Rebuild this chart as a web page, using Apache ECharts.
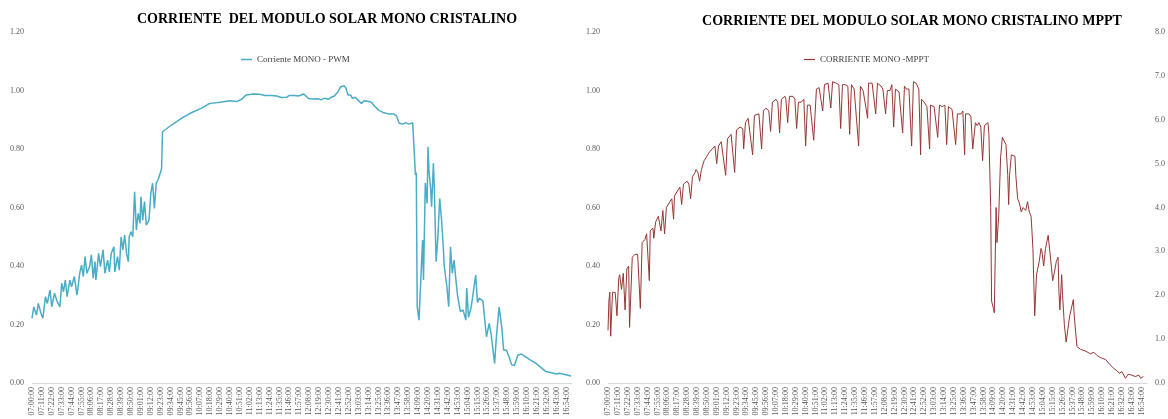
<!DOCTYPE html>
<html>
<head>
<meta charset="utf-8">
<script src="https://cdn.jsdelivr.net/npm/echarts@6/dist/echarts.min.js"></script>
<style>
html,body{margin:0;padding:0;background:#fff;}
#chart{width:1168px;height:419px;}
</style>
</head>
<body>
<div id="chart"></div>
<script>
// Tick labels of the time axis (one every 11 minutes from 07:00:00)
const tickLabels = ['07:00:00','07:11:00','07:22:00','07:33:00','07:44:00','07:55:00','08:06:00','08:17:00','08:28:00','08:39:00','08:50:00','09:01:00','09:12:00','09:23:00','09:34:00','09:45:00','09:56:00','10:07:00','10:18:00','10:29:00','10:40:00','10:51:00','11:02:00','11:13:00','11:24:00','11:35:00','11:46:00','11:57:00','12:08:00','12:19:00','12:30:00','12:41:00','12:52:00','13:03:00','13:14:00','13:25:00','13:36:00','13:47:00','13:58:00','14:09:00','14:20:00','14:31:00','14:42:00','14:53:00','15:04:00','15:15:00','15:26:00','15:37:00','15:48:00','15:59:00','16:10:00','16:21:00','16:32:00','16:43:00','16:54:00'];

const titleLeft = 'CORRIENTE  DEL MODULO SOLAR MONO CRISTALINO';
const titleRight = 'CORRIENTE DEL MODULO SOLAR MONO CRISTALINO MPPT';
const pwmName = 'Corriente MONO - PWM';
const mpptName = 'CORRIENTE MONO -MPPT';

// PWM series: minutes after 07:00 and current (A)
const pwmMinutes = [0,2,5,7,10,12,15,17,20,22,25,28,31,33,35,37,39,42,44,47,50,53,55,57,59,61,64,66,68,70,71,74,76,79,81,84,86,88,91,92,95,97,99,101,103,105,107,108,110,112,114,116,118,120,121,123,125,127,130,132,134,136,138,140,143,144,145,155,166,177,188,195,198,209,220,227,233,238,246,253,259,266,272,277,283,286,292,296,298,302,307,312,318,321,325,329,332,336,340,343,345,347,349,351,354,356,359,362,364,366,369,372,377,381,385,390,396,402,405,408,412,415,419,423,424,425,426,427,428,430,432,434,435,437,439,440,441,443,444,446,447,449,451,453,455,457,458,461,463,465,467,469,471,473,476,479,482,483,485,488,493,495,497,501,505,508,510,514,516,519,522,524,527,530,533,536,538,540,544,553,560,571,583,586,599];
const pwmValues = [0.221,0.26,0.232,0.272,0.238,0.221,0.295,0.272,0.318,0.26,0.307,0.278,0.26,0.341,0.312,0.352,0.295,0.352,0.329,0.364,0.30,0.375,0.403,0.364,0.432,0.375,0.398,0.438,0.358,0.415,0.352,0.443,0.398,0.455,0.375,0.42,0.38,0.443,0.466,0.38,0.432,0.386,0.50,0.455,0.506,0.443,0.415,0.50,0.517,0.50,0.654,0.523,0.58,0.546,0.637,0.557,0.62,0.54,0.557,0.648,0.683,0.597,0.683,0.694,0.722,0.734,0.859,0.882,0.905,0.924,0.939,0.952,0.956,0.96,0.965,0.962,0.97,0.985,0.988,0.987,0.983,0.983,0.981,0.976,0.977,0.983,0.983,0.981,0.985,0.988,0.973,0.971,0.972,0.968,0.974,0.97,0.976,0.981,0.996,1.013,1.015,1.016,1.007,0.985,0.985,0.973,0.977,0.968,0.973,0.956,0.965,0.964,0.96,0.945,0.933,0.925,0.92,0.92,0.913,0.888,0.885,0.89,0.885,0.89,0.885,0.774,0.711,0.72,0.261,0.215,0.215,0.489,0.352,0.684,0.614,0.808,0.73,0.66,0.603,0.751,0.671,0.415,0.50,0.631,0.56,0.466,0.40,0.329,0.261,0.466,0.375,0.42,0.352,0.295,0.244,0.25,0.215,0.325,0.225,0.26,0.369,0.275,0.29,0.28,0.158,0.204,0.17,0.067,0.158,0.26,0.19,0.113,0.113,0.09,0.062,0.06,0.062,0.096,0.099,0.08,0.067,0.039,0.031,0.033,0.024];

// MPPT series: minutes after 07:00 and current (A)
const mpptMinutes = [0,1,2,3,5,8,10,12,13,15,17,19,21,23,24,27,30,33,36,38,41,43,46,47,50,51,53,56,59,61,63,65,69,71,73,74,78,80,82,84,88,90,92,94,97,98,100,102,104,107,109,111,113,116,119,121,123,126,128,131,133,137,139,141,143,147,150,151,153,156,158,161,163,165,168,171,173,176,179,181,183,187,189,191,193,197,198,200,202,206,208,210,212,215,218,220,222,225,227,229,232,235,237,239,241,245,247,248,250,254,257,259,261,264,267,269,271,274,276,279,281,284,286,289,290,294,296,298,300,304,306,309,311,314,316,318,320,324,326,328,330,332,335,338,340,343,346,348,349,352,355,358,359,363,365,367,369,372,375,377,379,383,385,387,389,393,395,397,398,402,404,406,409,411,413,415,417,419,421,423,424,426,427,429,430,432,433,435,437,439,441,443,445,446,447,449,451,453,454,456,458,460,462,465,467,469,471,473,475,477,480,482,483,485,487,490,492,493,495,497,499,501,502,503,505,506,508,510,512,514,516,518,519,522,526,531,537,541,544,548,554,559,563,567,569,572,576,579,583,587,591,593,596];
const mpptValues = [0.18,0.28,0.31,0.16,0.31,0.31,0.23,0.36,0.37,0.32,0.375,0.25,0.39,0.40,0.19,0.43,0.44,0.44,0.255,0.48,0.49,0.51,0.35,0.52,0.53,0.495,0.55,0.57,0.52,0.59,0.51,0.60,0.62,0.63,0.56,0.64,0.66,0.67,0.61,0.68,0.69,0.68,0.63,0.705,0.72,0.73,0.72,0.69,0.73,0.76,0.77,0.78,0.79,0.80,0.81,0.75,0.81,0.825,0.83,0.71,0.835,0.85,0.855,0.72,0.865,0.875,0.87,0.80,0.89,0.905,0.905,0.78,0.915,0.92,0.92,0.80,0.93,0.94,0.93,0.86,0.96,0.97,0.96,0.855,0.97,0.98,0.97,0.89,0.98,0.98,0.97,0.87,0.96,0.96,0.97,0.81,0.95,0.95,0.95,0.83,1.005,1.01,1.005,0.93,1.02,1.025,1.03,0.94,1.03,1.025,1.02,0.87,1.02,1.02,1.015,0.85,1.02,1.005,1.0,0.81,1.015,1.0,1.005,0.905,1.025,1.025,1.02,0.92,1.025,1.015,1.005,0.92,1.0,1.0,1.02,0.875,1.005,0.995,0.995,0.855,1.015,1.005,1.005,0.81,1.03,1.025,1.005,0.78,0.97,0.96,0.945,0.80,0.95,0.945,0.94,0.84,0.95,0.945,0.95,0.815,0.945,0.935,0.93,0.815,0.92,0.92,0.93,0.78,0.92,0.92,0.91,0.80,0.89,0.88,0.89,0.875,0.76,0.88,0.88,0.89,0.85,0.60,0.28,0.255,0.24,0.60,0.48,0.575,0.77,0.84,0.835,0.815,0.71,0.61,0.71,0.78,0.785,0.775,0.71,0.63,0.615,0.585,0.60,0.59,0.62,0.585,0.57,0.46,0.23,0.37,0.415,0.46,0.45,0.40,0.46,0.505,0.505,0.415,0.35,0.38,0.415,0.43,0.31,0.25,0.37,0.30,0.20,0.14,0.145,0.23,0.225,0.285,0.23,0.125,0.115,0.11,0.10,0.105,0.095,0.087,0.08,0.062,0.05,0.041,0.033,0.039,0.016,0.03,0.027,0.022,0.027,0.016,0.022];

const pwmData = pwmMinutes.map((m, i) => [m, pwmValues[i]]);
const mpptData = mpptMinutes.map((m, i) => [m, mpptValues[i]]);

const serif = 'Liberation Serif, Times New Roman, serif';
const labelColor = '#595959';

function xAxisFor(gridIndex) {
  return {
    type: 'value', gridIndex: gridIndex, min: 0, max: 600, interval: 11,
    splitLine: {show: false},
    axisTick: {show: false},
    axisLine: {show: true, lineStyle: {color: '#d9d9d9', width: 1}},
    axisLabel: {
      rotate: 90, fontSize: 8, fontFamily: serif, color: labelColor, margin: 4,
      showMaxLabel: false, hideOverlap: false,
      formatter: v => { const k = Math.round(v / 11); return (Math.abs(v - k * 11) < 0.01 && tickLabels[k]) ? tickLabels[k] : ''; }
    }
  };
}
function yAxisFor(gridIndex, pos, max, interval, dec, margin) {
  return {
    type: 'value', gridIndex: gridIndex, position: pos, min: 0, max: max, interval: interval,
    splitLine: {show: false}, axisLine: {show: false}, axisTick: {show: false},
    axisLabel: {fontSize: 8, fontFamily: serif, color: labelColor, margin: margin, formatter: v => v.toFixed(dec)}
  };
}

const chart = echarts.init(document.getElementById('chart'), null, {renderer: 'canvas'});
chart.setOption({
  animation: false,
  backgroundColor: '#ffffff',
  graphic: [
    {type: 'text', x: 327, y: 12, style: {text: titleLeft, textAlign: 'center', font: 'bold 14px ' + serif, fill: '#000'}},
    {type: 'text', x: 912, y: 14, style: {text: titleRight, textAlign: 'center', font: 'bold 14px ' + serif, fill: '#000'}}
  ],
  legend: [
    {data: [pwmName], left: 236, top: 50, icon: 'rect', itemWidth: 11, itemHeight: 1.5, textStyle: {fontSize: 9, fontFamily: serif, color: '#404040'}},
    {data: [mpptName], left: 799, top: 50, icon: 'rect', itemWidth: 11, itemHeight: 1.2, textStyle: {fontSize: 9, fontFamily: serif, color: '#404040'}}
  ],
  grid: [
    {left: 32, top: 32, width: 540, height: 351},
    {left: 608, top: 32, width: 540, height: 351}
  ],
  xAxis: [xAxisFor(0), xAxisFor(1)],
  yAxis: [
    yAxisFor(0, 'left', 1.2, 0.2, 2, 8),
    yAxisFor(1, 'left', 1.2, 0.2, 2, 8),
    yAxisFor(1, 'right', 8, 1, 1, 8)
  ],
  series: [
    {type: 'line', name: pwmName, xAxisIndex: 0, yAxisIndex: 0, data: pwmData, symbol: 'none',
     lineStyle: {color: '#4bacc6', width: 1.5}, itemStyle: {color: '#4bacc6'}},
    {type: 'line', name: mpptName, xAxisIndex: 1, yAxisIndex: 1, data: mpptData, symbol: 'none',
     lineStyle: {color: '#953735', width: 1}, itemStyle: {color: '#953735'}}
  ]
});
</script>
</body>
</html>
